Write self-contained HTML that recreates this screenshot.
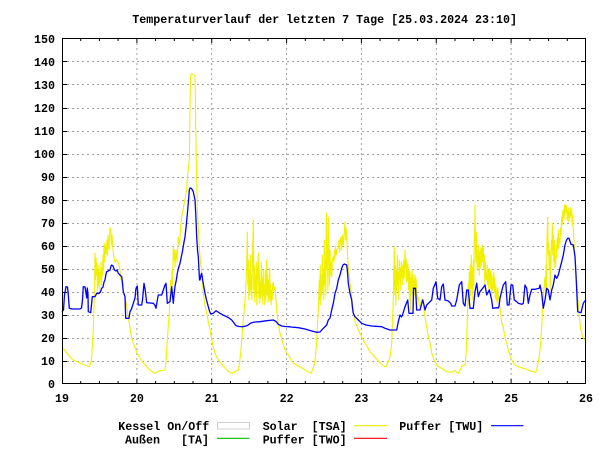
<!DOCTYPE html>
<html><head><meta charset="utf-8"><style>
html,body{margin:0;padding:0;background:#fff;}
svg{display:block;}
text{font-family:"Liberation Mono","DejaVu Sans Mono",monospace;font-weight:bold;font-size:11.67px;fill:#000;white-space:pre;}
</style></head><body>
<svg width="600" height="450" viewBox="0 0 600 450" xmlns="http://www.w3.org/2000/svg">
<rect width="600" height="450" fill="#fff"/>
<text x="132.3" y="23">Temperaturverlauf der letzten 7 Tage [25.03.2024 23:10]</text>
<g stroke="#a0a0a0" stroke-width="1" stroke-dasharray="2 3" fill="none">
<line x1="62" y1="361.5" x2="586" y2="361.5"/>
<line x1="62" y1="338.5" x2="586" y2="338.5"/>
<line x1="62" y1="315.5" x2="586" y2="315.5"/>
<line x1="62" y1="292.5" x2="586" y2="292.5"/>
<line x1="62" y1="269.5" x2="586" y2="269.5"/>
<line x1="62" y1="246.5" x2="586" y2="246.5"/>
<line x1="62" y1="223.5" x2="586" y2="223.5"/>
<line x1="62" y1="200.5" x2="586" y2="200.5"/>
<line x1="62" y1="177.5" x2="586" y2="177.5"/>
<line x1="62" y1="154.5" x2="586" y2="154.5"/>
<line x1="62" y1="131.5" x2="586" y2="131.5"/>
<line x1="62" y1="108.5" x2="586" y2="108.5"/>
<line x1="62" y1="84.5" x2="586" y2="84.5"/>
<line x1="62" y1="61.5" x2="586" y2="61.5"/>
<line x1="136.9" y1="38" x2="136.9" y2="384"/>
<line x1="211.7" y1="38" x2="211.7" y2="384"/>
<line x1="286.6" y1="38" x2="286.6" y2="384"/>
<line x1="361.4" y1="38" x2="361.4" y2="384"/>
<line x1="436.3" y1="38" x2="436.3" y2="384"/>
<line x1="511.1" y1="38" x2="511.1" y2="384"/>
</g>
<g stroke="#000" stroke-width="1" fill="none">
<path d="M62,361.5h5M62,338.5h5M62,315.5h5M62,292.5h5M62,269.5h5M62,246.5h5M62,223.5h5M62,200.5h5M62,177.5h5M62,154.5h5M62,131.5h5M62,108.5h5M62,84.5h5M62,61.5h5
M586,361.5h-5M586,338.5h-5M586,315.5h-5M586,292.5h-5M586,269.5h-5M586,246.5h-5M586,223.5h-5M586,200.5h-5M586,177.5h-5M586,154.5h-5M586,131.5h-5M586,108.5h-5M586,84.5h-5M586,61.5h-5"/>
<path d="M80.7,384v-3M99.4,384v-3M118.1,384v-3M136.9,384v-5M155.6,384v-3M174.3,384v-3M193,384v-3M211.7,384v-5M230.4,384v-3M249.1,384v-3M267.9,384v-3M286.6,384v-5M305.3,384v-3M324,384v-3M342.7,384v-3M361.4,384v-5M380.1,384v-3M398.9,384v-3M417.6,384v-3M436.3,384v-5M455,384v-3M473.7,384v-3M492.4,384v-3M511.1,384v-5M529.9,384v-3M548.6,384v-3M567.3,384v-3
M80.7,38v3M99.4,38v3M118.1,38v3M136.9,38v5M155.6,38v3M174.3,38v3M193,38v3M211.7,38v5M230.4,38v3M249.1,38v3M267.9,38v3M286.6,38v5M305.3,38v3M324,38v3M342.7,38v3M361.4,38v5M380.1,38v3M398.9,38v3M417.6,38v3M436.3,38v5M455,38v3M473.7,38v3M492.4,38v3M511.1,38v5M529.9,38v3M548.6,38v3M567.3,38v3"/>
</g>
<polyline fill="none" stroke="#f0f000" stroke-width="1.1" stroke-linejoin="round" points="62,347 66,352 70,357 73.3,360 78,362 82,364 85,365 89.3,366.7 91,362 91.7,356.7 93.3,330 94.5,290 95,253 95.5,280 96,258 96.5,275 97,262 97.5,290 98,270 98.5,285 99,265 99.5,292 100,272 100.5,280 101,262 101.5,285 102,268 102.5,275 103,255 103.5,270 104,245 104.5,262 105,243 106,255 107,240 107.5,255 108,235 109,250 110,228 110.7,228 111.5,245 112,235 113,250 114,258 115,262 116.7,260 118,262 119,265 120,270 121,280 121.7,278 122,285 123,290 125,297 126.5,305 128.3,317 130,328 131.7,338 134,345 136.7,352 140,358 143.3,363 147,367 150,370 153,372 155,373.3 158,371.5 160,370.7 163,370.5 165,370 166,362 166.7,350 168,330 169.3,313 170.2,290 170.7,280 171.5,290 172,270 172.5,285 173.3,247 174,260 174.5,250 175,267 176,250 177,262 178.3,237 179.5,245 180.5,228 181.7,217 183,210 184.5,202 186.7,190 187.5,175 188.3,170 189.3,160 189.8,120 190.3,90 190.7,75 191.5,73.5 193,74 194,75 195,77 195.5,100 195.7,127 196.5,170 197.3,207 198.3,228 199.3,247 200.5,262 201.7,273 203.3,293 205,305 206.7,313 208.3,322 210,330 211.5,338 213.3,347 215.5,354 218.3,360 221.5,364 225,368 228,371 231.7,373.3 234,372.5 236,371 238.3,370 239.5,363 240.7,353 241.7,340 242.7,327 244,313 245,300 246,283 246.7,267 247.3,232 247.8,285 248.3,260 248.8,300 249.3,270 249.8,295 250.3,255 250.8,290 251.3,275 251.8,300 252.3,268 253.3,219 253.8,290 254.3,265 254.8,302 255.3,275 255.8,295 256.3,262 256.8,305 257.3,280 258.3,253 258.8,298 259.3,270 259.8,303 260.3,282 260.8,298 261.3,262 261.8,295 262.3,278 262.8,304 263.3,270 263.8,296 264.3,285 264.8,305 265.3,270 265.8,300 266.7,260 267.2,295 267.7,275 268.2,302 268.7,280 269.2,298 269.7,268 270.2,300 270.7,285 271.2,305 271.7,290 272.2,300 272.7,285 273.3,282 274,290 275,287 276,300 276.7,310 278,322 280,333 282.5,342 285,350 288.3,355 290,358 292,361.7 295,364 298,366 301.7,367.7 304,369 306.7,371 309,372.5 311,373.3 312,371 313.3,368 315,360 316,350 316.7,340 317.5,325 318.3,310 319,290 319.3,280 319.8,300 320.3,265 320.8,305 321.3,275 321.8,295 322.3,255 322.8,290 323.3,270 323.8,300 324.3,240 324.8,285 325.3,260 325.8,295 326.2,230 326.7,213 327.1,270 327.5,250 327.9,290 328.3,217 328.7,260 329.1,245 329.5,285 330,250 330.5,275 331,262 331.7,277 332.2,265 332.7,258 333.3,257 334,262 334.5,250 335,258 335.5,246 336.2,255 337,250 338.3,248 339,240 339.7,252 340.2,240 341,237 341.7,250 342.5,235 343.3,245 344,235 345,222 345.6,240 346.1,228 346.7,237 347.5,255 348.3,267 349.2,275 350,283 351,290 351.7,297 352.5,305 353.3,313 354.5,320 355.7,323 358.3,330 361.7,337 365,343 367.5,347 370,352 372.5,354 375,357 377.5,360 380,363 382.5,365 385,367 386.5,366 387.7,363 389,360 390,357 391,350 391.7,343 392.5,320 393.3,300 393.8,270 394.3,247 394.8,295 395.3,265 395.8,305 396.3,270 396.8,290 397.3,255 397.8,285 398.3,272 398.8,300 399.3,260 399.8,280 400.3,268 400.8,290 401.3,262 401.8,278 402.3,265 402.8,285 403.3,270 403.8,260 404.3,278 405,250 405.5,268 406,258 406.5,282 407,262 407.5,280 408,265 408.5,290 409,270 409.5,300 410,272 410.5,310 411,278 411.5,295 412,270 412.5,288 413,275 413.5,305 414,280 414.5,295 415,275 415.5,290 416,278 416.7,292 417.5,300 418.3,297 419,305 420,307 421,302 422,299 423.3,300 424,310 425,317 426.7,327 428.3,337 430,343 431.7,353 434,360 436.7,365 439,367 441.7,368.3 444,370 446.7,371.7 449,372 451.7,372.3 453,371.5 455,370.7 456.5,372 458.3,373.3 460,370 461.7,366.7 463,365.5 465,365 466,355 466.7,340 467.3,318 467.7,303 468.3,283 468.8,305 469.3,272 469.8,300 470.3,265 470.8,295 471.3,255 471.8,288 472.3,268 472.8,300 473.3,260 473.8,285 474.3,240 474.8,225 475,205 475.4,240 475.8,262 476.2,232 476.7,240 477.2,270 477.7,250 478.3,267 478.8,245 479.3,275 479.8,252 480.3,268 480.8,248 481.3,265 481.7,257 482.2,245 482.7,262 483.3,247 483.8,270 484.3,255 484.8,285 485.3,262 485.8,278 486.7,280 487.3,265 487.8,285 488.3,270 488.8,290 489.3,268 490,275 490.5,288 491,270 491.5,295 492,275 492.5,290 493.3,287 493.8,272 494.3,292 494.8,278 495.3,298 495.8,285 496.3,300 496.7,290 497.2,303 497.7,288 498.2,300 498.7,295 499.3,302 500,307 500.8,315 501.7,323 502.5,325 503.3,327 504,332 505,337 505.8,340 506.7,343 508.3,350 509.7,355 511,358 513.3,363 515.5,365 518.3,366.7 520.8,367.5 523.3,368.3 526,369 528.3,370 531,371 533.3,371.7 535.7,372.3 536.7,370 537.7,365 539,358 540,350 540.8,340 541.7,327 542.5,310 543.3,297 544.2,285 545,277 545.5,295 546,265 546.5,290 547,240 547.7,217 548.2,255 548.7,243 549.3,270 549.8,250 550.3,290 551,263 551.5,240 552,250 552.3,223 552.8,255 553.3,235 553.8,262 554.3,240 554.8,268 555.7,263 556.2,245 556.7,258 557.2,238 557.7,250 558.3,230 558.8,248 559.3,238 560,243 560.5,228 561,235 561.7,217 562.3,225 562.8,212 563.3,210 564,220 564.5,205 565,215 565.7,205 566.2,212 566.7,206 567.2,220 567.7,215 568.3,208 568.8,222 569.4,212 570,218 570.5,208 571,215 571.7,210 572.2,225 572.7,215 573.3,230 574.2,245 575,257 575.8,270 576.7,283 577.5,293 578.3,303 579.2,315 580,323 580.8,330 581.7,333 582.5,336 583.3,338 584.3,339 585,340 586,341"/>
<polyline fill="none" stroke="#0000ff" stroke-width="1.3" stroke-linejoin="round" points="62,311.7 63.5,310 64.5,295 66,286.7 67.5,287 68.3,295 69.3,308.3 72,309 76,309 80,309 81.5,308 82.5,300 83.3,286.7 85,287 86,293 86.7,298 87.3,288 88,295 88.3,311.7 90.7,312.7 91.5,305 92.3,296.7 95,296.7 96.7,293.3 99,293.5 100.5,292 101.7,288.3 103,287 104,282 105,280 106,274 106.7,271.7 108,271 110,270 111,266 111.7,265 113,266 114.5,270 116,271 117,270 118.3,273.3 120,275 121.7,276.7 122.5,283 123.3,291.7 125,296.7 125.7,318.3 129,318.3 130,311.7 131.5,309 133.3,303.3 135,298 136,288.3 137.3,286 138.3,305 141.7,305 142.5,300 144,283.3 145.2,290 146.7,302.7 150,303 153.3,303.3 154.8,305 156,308.3 157,302 158.3,295 161.7,295 163.3,290 165,285 166,283.3 167.3,303.3 170,301.7 171.7,286.7 172.5,295 173.3,303.3 174,295 175,286.7 176.3,280 177.3,273.3 178.5,268 180,263.3 181.5,256 182.7,250 184,242 185,236.7 186.3,225 187.7,210 188.8,197 189.3,190 190,188 191.5,188.5 193.3,191.7 195,200 195.8,215 196.7,237 197.5,250 198.3,257 199,270 199.5,280 200,280 201,275 201.7,273.3 203,282 205,293.3 206.5,300 208.3,306.7 209.5,311 210.7,314 213.3,313.3 216,310.7 218,312 220,313.3 223,315 226.7,316.7 229,318 231.7,320 234,323 236,325.7 239,326.5 242.7,326.7 245.5,326.2 248.3,325 250,323.5 251.7,322.7 255,322 260,321.7 266.7,320.7 273.3,320 276,321.5 278.3,324.3 281.7,326 285,326.5 289.3,326.7 291,327 298.3,327.7 305,329 311.7,331 316.7,332.3 320,332 323.3,328.3 326.7,325 328.3,320 330,318 331.7,310 333.3,303.3 335,293.3 336.7,288.3 338.3,280 340,275 341.7,268.3 343,265 344.3,264 346.7,265 347.5,272 348.3,283.3 350,293.3 351.7,300 352.5,308 353.3,313.3 355,316.7 358.3,320 361.7,323.3 366,325 371.7,326 376,326.3 381.7,326.7 385,328.3 390,330 396.7,330 398.3,321.7 400,315 401.5,317 402.5,315 405,306.7 407.7,300 409,313.3 413,313.3 413.5,288.3 415.5,288.3 416.7,310 420,310 422.7,300 424,305 425,310 426.7,305 430,301.7 431.7,300 433.3,288.3 436,281.7 437.7,298.3 440,300 441.7,286.7 443.3,284 445,300 448.3,301 450.7,303.3 451.7,306 455,306 456.7,300 459.3,285 461.7,281.7 463.3,303.3 465,306 466.7,290 468.3,290 470,308.3 473.3,308.3 475,291.7 476.7,283.3 478.3,296.7 480,291.7 482.7,288.3 485,285 486.7,295 489.3,290 491.7,300 492.7,308.3 496.7,307.7 498.3,308 499,306 500,298.3 501.5,292 503.3,285 505.7,281.7 507.3,305 509,305 511,285 512.7,285 514.3,300 516.7,301.7 518.3,303.3 521.7,304.3 523.3,303.5 525,285 526.7,288.3 528.3,303.3 530,295 531.7,289.3 535,289.3 539.3,288.3 540,285 541.7,293.3 543.3,308.3 545,300 546.7,288.3 548.3,290 550,300 551.7,290 553.3,285 555,275 556.7,278.3 558.3,275 560,268.3 561.7,261.7 563.3,255 565,245 566.5,240 567.7,238.3 569,238.3 571,244.3 573.3,245 575,256.7 576,275 576.7,290 577.7,311.7 581,312.7 583.3,303.3 584.3,301.7 586,300"/>
<rect x="62.5" y="38.5" width="523" height="345" fill="none" stroke="#000" stroke-width="1"/>
<g text-anchor="end">
<text x="55" y="42.8">150</text>
<text x="55" y="65.8">140</text>
<text x="55" y="88.8">130</text>
<text x="55" y="111.8">120</text>
<text x="55" y="134.8">110</text>
<text x="55" y="157.8">100</text>
<text x="55" y="180.8">90</text>
<text x="55" y="203.8">80</text>
<text x="55" y="226.8">70</text>
<text x="55" y="249.8">60</text>
<text x="55" y="272.8">50</text>
<text x="55" y="295.8">40</text>
<text x="55" y="318.8">30</text>
<text x="55" y="341.8">20</text>
<text x="55" y="364.8">10</text>
<text x="55" y="387.8">0</text>
</g>
<g text-anchor="middle">
<text x="62" y="402">19</text>
<text x="136.9" y="402">20</text>
<text x="211.7" y="402">21</text>
<text x="286.6" y="402">22</text>
<text x="361.4" y="402">23</text>
<text x="436.3" y="402">24</text>
<text x="511.1" y="402">25</text>
<text x="586" y="402">26</text>
</g>
<text x="118.3" y="430">Kessel On/Off</text>
<rect x="217.5" y="422.5" width="32" height="6.5" fill="none" stroke="#d0d0d0" stroke-width="1"/>
<text x="262.7" y="430">Solar  [TSA]</text>
<line x1="354" y1="425.7" x2="387" y2="425.7" stroke="#f0f000" stroke-width="1.2"/>
<text x="399.3" y="430">Puffer [TWU]</text>
<line x1="491" y1="425.7" x2="523.5" y2="425.7" stroke="#0000ff" stroke-width="1.2"/>
<text x="125" y="443.3">Außen   [TA]</text>
<line x1="217" y1="438.3" x2="249.5" y2="438.3" stroke="#00c000" stroke-width="1.2"/>
<text x="262.7" y="443.3">Puffer [TWO]</text>
<line x1="354" y1="438.3" x2="387" y2="438.3" stroke="#ff0000" stroke-width="1.2"/>
</svg>
</body></html>
